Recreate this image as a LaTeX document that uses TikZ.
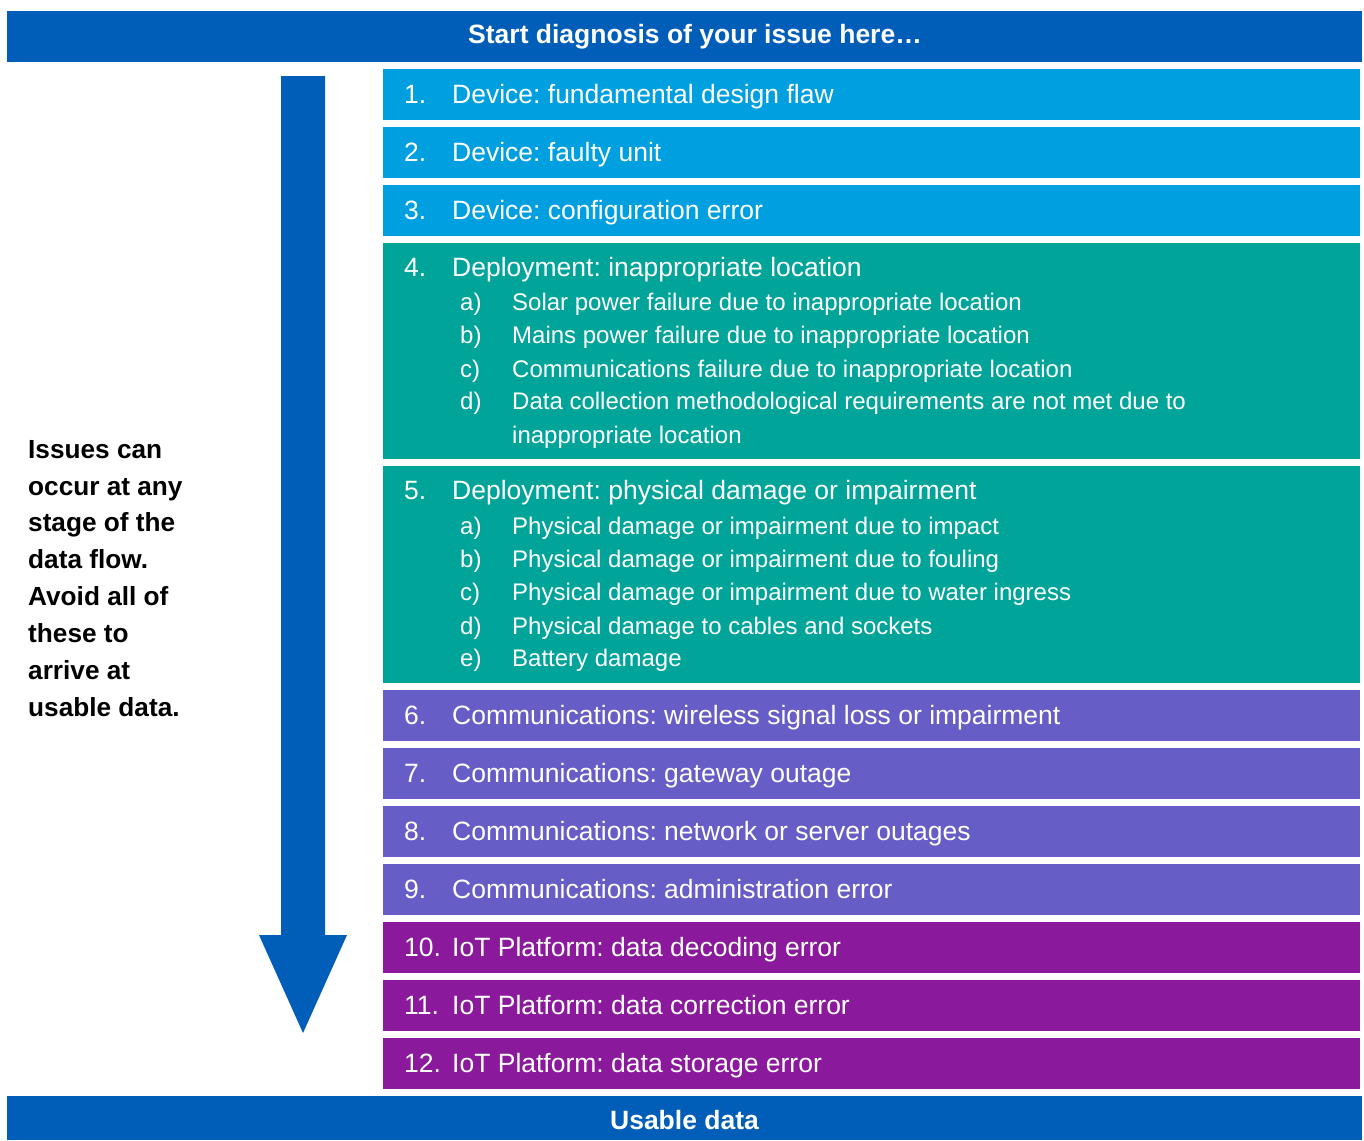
\documentclass[tikz,border=0pt]{standalone}
\usepackage{fontspec}
\setmainfont{Liberation Sans}
\frenchspacing
\definecolor{darkblue}{HTML}{005EB8}
\definecolor{lightblue}{HTML}{00A0E0}
\definecolor{tealc}{HTML}{00A499}
\definecolor{violetc}{HTML}{675DC6}
\definecolor{purplec}{HTML}{8A1A9B}
\tikzset{
  box/.style={anchor=north west, inner sep=0pt, minimum width=977pt, draw=none},
  bar/.style={anchor=north west, inner sep=0pt, minimum width=1355pt, fill=darkblue, draw=none},
  num/.style={anchor=base west, inner sep=0pt, text=white, font=\fontsize{26.5}{30}\selectfont\frenchspacing},
  sub/.style={anchor=base west, inner sep=0pt, text=white, font=\fontsize{24}{28}\selectfont\frenchspacing},
  bartext/.style={inner sep=0pt, text=white, font=\fontsize{26.5}{30}\selectfont\bfseries\frenchspacing},
  side/.style={anchor=base west, inner sep=0pt, text=black, font=\fontsize{26.2}{30}\selectfont\bfseries\frenchspacing},
}
\begin{document}
\begin{tikzpicture}[x=1pt,y=-1pt]
\useasboundingbox (0,0) rectangle (1364,1140);
% bars
\node[bar, minimum height=51pt] (topbar) at (7,11) {};
\node[bartext] (toptext) at (695,36.5) {Start diagnosis of your issue here…};
\node[bar, minimum height=44pt] (botbar) at (7,1096) {};
\node[bartext] (bottext) at (684.5,1120) {Usable data};
% arrow
\fill[darkblue] (281,76) -- (325,76) -- (325,935) -- (347,935) -- (303,1033) -- (259,935) -- (281,935) -- cycle;
% boxes
\node[box, fill=lightblue, minimum height=51pt] (b1) at (383,69) {};
\node[box, fill=lightblue, minimum height=51pt] (b2) at (383,127) {};
\node[box, fill=lightblue, minimum height=51pt] (b3) at (383,185) {};
\node[box, fill=tealc, minimum height=216pt] (b4) at (383,243) {};
\node[box, fill=tealc, minimum height=217pt] (b5) at (383,466) {};
\node[box, fill=violetc, minimum height=51pt] (b6) at (383,690) {};
\node[box, fill=violetc, minimum height=51pt] (b7) at (383,748) {};
\node[box, fill=violetc, minimum height=51pt] (b8) at (383,806) {};
\node[box, fill=violetc, minimum height=51pt] (b9) at (383,864) {};
\node[box, fill=purplec, minimum height=51pt] (b10) at (383,922) {};
\node[box, fill=purplec, minimum height=51pt] (b11) at (383,980) {};
\node[box, fill=purplec, minimum height=51pt] (b12) at (383,1038) {};
% main items
\node[num] (n1) at (404,103.5) {1.};  \node[num] (t1) at (452,103.5) {Device: fundamental design flaw};
\node[num] (n2) at (404,161.5) {2.};  \node[num] (t2) at (452,161.5) {Device: faulty unit};
\node[num] (n3) at (404,219.5) {3.};  \node[num] (t3) at (452,219.5) {Device: configuration error};
\node[num] (n4) at (404,276.5) {4.};  \node[num] (t4) at (452,276.5) {Deployment: inappropriate location};
\node[num] (n5) at (404,499.5) {5.};  \node[num] (t5) at (452,499.5) {Deployment: physical damage or impairment};
\node[num] (n6) at (404,724.5) {6.};  \node[num] (t6) at (452,724.5) {Communications: wireless signal loss or impairment};
\node[num] (n7) at (404,782.5) {7.};  \node[num] (t7) at (452,782.5) {Communications: gateway outage};
\node[num] (n8) at (404,840.5) {8.};  \node[num] (t8) at (452,840.5) {Communications: network or server outages};
\node[num] (n9) at (404,898.5) {9.};  \node[num] (t9) at (452,898.5) {Communications: administration error};
\node[num] (n10) at (404,956.5) {10.}; \node[num] (t10) at (452,956.5) {IoT Platform: data decoding error};
\node[num] (n11) at (404,1014.5) {11.}; \node[num] (t11) at (452,1014.5) {IoT Platform: data correction error};
\node[num] (n12) at (404,1072.5) {12.}; \node[num] (t12) at (452,1072.5) {IoT Platform: data storage error};
% sub items of 4
\node[sub] (s4a) at (460,310.5) {a)}; \node[sub] (u4a) at (512,310.5) {Solar power failure due to inappropriate location};
\node[sub] (s4b) at (460,343.5) {b)}; \node[sub] (u4b) at (512,343.5) {Mains power failure due to inappropriate location};
\node[sub] (s4c) at (460,377.5) {c)}; \node[sub] (u4c) at (512,377.5) {Communications failure due to inappropriate location};
\node[sub] (s4d) at (460,409.5) {d)}; \node[sub] (u4d) at (512,409.5) {Data collection methodological requirements are not met due to};
\node[sub] (u4e) at (512,443.5) {inappropriate location};
% sub items of 5
\node[sub] (s5a) at (460,534.5) {a)}; \node[sub] (u5a) at (512,534.5) {Physical damage or impairment due to impact};
\node[sub] (s5b) at (460,567.5) {b)}; \node[sub] (u5b) at (512,567.5) {Physical damage or impairment due to fouling};
\node[sub] (s5c) at (460,600.5) {c)}; \node[sub] (u5c) at (512,600.5) {Physical damage or impairment due to water ingress};
\node[sub] (s5d) at (460,634.5) {d)}; \node[sub] (u5d) at (512,634.5) {Physical damage to cables and sockets};
\node[sub] (s5e) at (460,666.5) {e)}; \node[sub] (u5e) at (512,666.5) {Battery damage};
% side text
\node[side] (l1) at (28,458.5) {Issues can};
\node[side] (l2) at (28,495.5) {occur at any};
\node[side] (l3) at (28,531.5) {stage of the};
\node[side] (l4) at (28,568.5) {data flow.};
\node[side] (l5) at (28,605.5) {Avoid all of};
\node[side] (l6) at (28,642.5) {these to};
\node[side] (l7) at (28,679.5) {arrive at};
\node[side] (l8) at (28,716.5) {usable data.};
\end{tikzpicture}
\end{document}
